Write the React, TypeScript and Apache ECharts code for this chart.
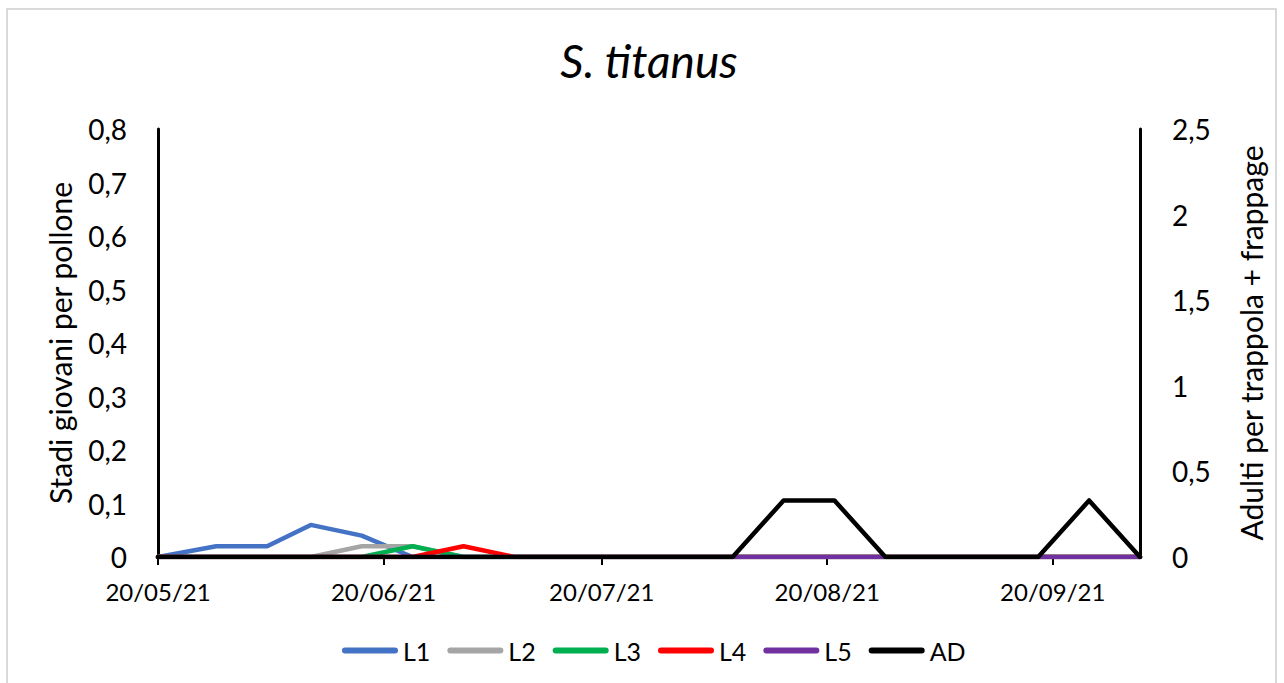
import React, { useEffect, useRef } from "react";
import * as echarts from "echarts";

const dates = [
  "2021-05-20", "2021-05-28", "2021-06-04", "2021-06-10", "2021-06-17",
  "2021-06-24", "2021-07-01", "2021-07-08", "2021-07-15", "2021-07-22",
  "2021-07-29", "2021-08-07", "2021-08-14", "2021-08-21", "2021-08-28",
  "2021-09-04", "2021-09-11", "2021-09-18", "2021-09-25", "2021-10-02",
];
const L1 = [0, 0.02, 0.02, 0.06, 0.04, 0, 0, 0, 0, 0, 0, 0, 0, 0, 0, 0, 0, 0, 0, 0];
const L2 = [0, 0, 0, 0, 0.02, 0.02, 0, 0, 0, 0, 0, 0, 0, 0, 0, 0, 0, 0, 0, 0];
const L3 = [0, 0, 0, 0, 0, 0.02, 0, 0, 0, 0, 0, 0, 0, 0, 0, 0, 0, 0, 0, 0];
const L4 = [0, 0, 0, 0, 0, 0, 0.02, 0, 0, 0, 0, 0, 0, 0, 0, 0, 0, 0, 0, 0];
const L5 = [0, 0, 0, 0, 0, 0, 0, 0, 0, 0, 0, 0, 0, 0, 0, 0, 0, 0, 0, 0];
const AD = [0, 0, 0, 0, 0, 0, 0, 0, 0, 0, 0, 0, 0.33, 0.33, 0, 0, 0, 0, 0.33, 0];
const tickDates = ["2021-05-20", "2021-06-20", "2021-07-20", "2021-08-20", "2021-09-20"];

const title = "S. titanus";
const leftName = "Stadi giovani per pollone";
const rightName = "Adulti per trappola + frappage";

const seriesDefs = [
  { name: "L1", data: L1, color: "#4472C4", axis: 0 },
  { name: "L2", data: L2, color: "#A5A5A5", axis: 0 },
  { name: "L3", data: L3, color: "#00B050", axis: 0 },
  { name: "L4", data: L4, color: "#FF0000", axis: 0 },
  { name: "L5", data: L5, color: "#7030A0", axis: 0 },
  { name: "AD", data: AD, color: "#000000", axis: 1 },
];

function ts(s: string): number {
  const [y, m, d] = s.split("-").map(Number);
  return new Date(y, m - 1, d).getTime();
}
function pad(n: number) {
  return n < 10 ? "0" + n : "" + n;
}
function fmtDate(v: number) {
  const d = new Date(v);
  return pad(d.getDate()) + "/" + pad(d.getMonth() + 1) + "/" + String(d.getFullYear()).slice(2);
}
function fmtNum(v: number) {
  return String(Math.round(v * 10) / 10).replace(".", ",");
}

const FONT = "Lato";
const LEGEND_ICON = "path://M3,0 L53,0 A3,3 0 0 1 53,6 L3,6 A3,3 0 0 1 3,0 Z";

export default function App() {
  const ref = useRef<HTMLDivElement>(null);
  useEffect(() => {
    if (!ref.current) return;
    const chart = echarts.init(ref.current, null, { renderer: "svg" });
    const tickVals = tickDates.map(ts);
    chart.setOption({
      animation: false,
      backgroundColor: "#ffffff",
      textStyle: { fontFamily: FONT },
      title: {
        text: title,
        left: 644,
        top: 32,
        textAlign: "center",
        textStyle: { fontFamily: FONT, fontSize: 46, fontStyle: "italic", fontWeight: "normal", color: "#000" },
      },
      graphic: [
        {
          type: "rect",
          shape: { x: 7, y: 9, width: 1269, height: 700 },
          style: { fill: "none", stroke: "#d9d9d9", lineWidth: 2 },
          silent: true,
        },
      ],
      legend: {
        top: 633,
        left: 337,
        icon: LEGEND_ICON,
        itemWidth: 56,
        itemHeight: 6,
        itemGap: 17,
        textStyle: { fontFamily: FONT, fontSize: 25, color: "#000" },
        data: seriesDefs.map((s) => s.name),
      },
      grid: { left: 158, right: 144, top: 129, bottom: 126 },
      xAxis: {
        type: "value",
        min: ts(dates[0]),
        max: ts(dates[dates.length - 1]),
        axisLine: { show: true, lineStyle: { color: "#000", width: 3 } },
        axisTick: { show: true, customValues: tickVals, length: 8, lineStyle: { color: "#000", width: 2 } },
        axisLabel: {
          customValues: tickVals,
          formatter: (v: number) => fmtDate(v),
          fontFamily: FONT,
          fontSize: 24,
          color: "#000",
          margin: 22,
        },
        splitLine: { show: false },
      },
      yAxis: [
        {
          type: "value",
          min: 0,
          max: 0.8,
          interval: 0.1,
          name: leftName,
          nameLocation: "middle",
          nameRotate: 90,
          nameGap: 83,
          nameTextStyle: { fontFamily: FONT, fontSize: 30, color: "#000" },
          axisLine: { show: true, lineStyle: { color: "#000", width: 3 } },
          axisTick: { show: false },
          axisLabel: { formatter: (v: number) => fmtNum(v), fontFamily: FONT, fontSize: 28, color: "#000", margin: 31 },
          splitLine: { show: false },
        },
        {
          type: "value",
          min: 0,
          max: 2.5,
          interval: 0.5,
          position: "right",
          name: rightName,
          nameLocation: "middle",
          nameRotate: 90,
          nameGap: 96,
          nameTextStyle: { fontFamily: FONT, fontSize: 30, color: "#000" },
          axisLine: { show: true, lineStyle: { color: "#000", width: 3 } },
          axisTick: { show: false },
          axisLabel: { formatter: (v: number) => fmtNum(v), fontFamily: FONT, fontSize: 28, color: "#000", margin: 32 },
          splitLine: { show: false },
        },
      ],
      series: seriesDefs.map((s) => ({
        name: s.name,
        type: "line",
        yAxisIndex: s.axis,
        data: dates.map((d, i) => [ts(d), s.data[i]]),
        showSymbol: false,
        symbol: "none",
        color: s.color,
        lineStyle: { color: s.color, width: 4.5, cap: "round", join: "round" },
        itemStyle: { color: s.color },
      })),
    });
    return () => chart.dispose();
  }, []);
  return <div ref={ref} style={{ position: "fixed", left: 0, top: 0, width: 1284, height: 683 }} />;
}
